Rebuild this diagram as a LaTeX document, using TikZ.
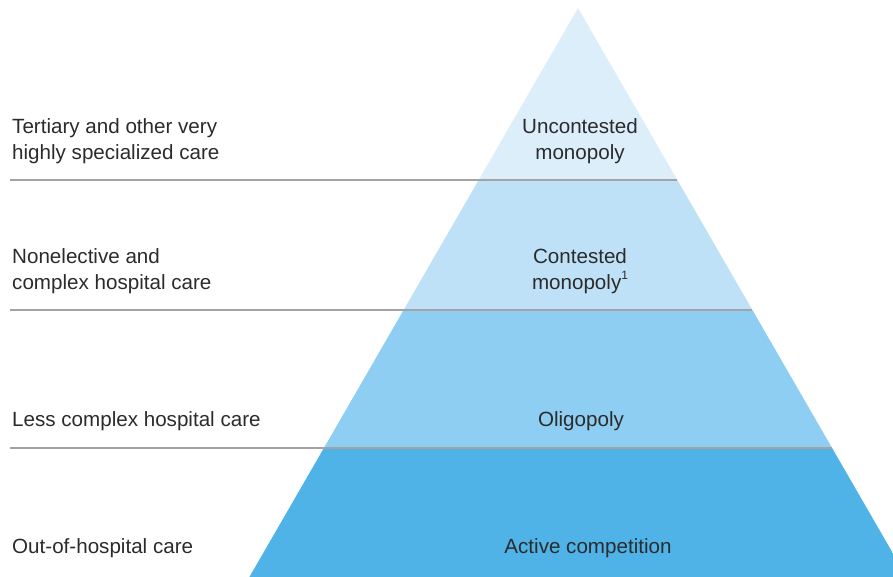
\documentclass[tikz,border=0pt]{standalone}
\usepackage{fontspec}
\setmainfont{Liberation Sans}
\usetikzlibrary{positioning}
\definecolor{tierone}{HTML}{DDEEFB}
\definecolor{tiertwo}{HTML}{BFE1F8}
\definecolor{tierthree}{HTML}{8ECEF3}
\definecolor{tierfour}{HTML}{4FB3E7}
\definecolor{rulegray}{HTML}{A3A3A3}
\definecolor{textgray}{HTML}{2B2B2B}
\newcommand{\footmark}[1]{\raisebox{0.5em}{\fontsize{12}{12}\selectfont #1}}
\tikzset{
  carelabel/.style={
    anchor=west,
    align=left,
    text=textgray,
    font=\fontsize{20.6}{26}\selectfont,
    inner sep=0pt
    },
  marketlabel/.style={
    align=center,
    text=textgray,
    font=\fontsize{20.6}{26}\selectfont,
    inner sep=0pt
    },
  divider/.style={
    draw=rulegray,
    line width=1.4pt
    }
}

\begin{document}
\begin{tikzpicture}[x=1pt,y=-1pt]
\useasboundingbox (0,0) rectangle (893,576);
\coordinate (apex) at (578,8);
\coordinate (baseL) at (231.5,608);
\coordinate (baseR) at (924.5,608);
% pyramid bands
\begin{scope}
\clip (0,0) rectangle (893,576);
\clip (apex) -- (baseL) -- (baseR) -- cycle;
\fill[tierone] (0,0) rectangle (893,180);
\fill[tiertwo] (0,180) rectangle (893,310);
\fill[tierthree] (0,310) rectangle (893,448);
\fill[tierfour] (0,448) rectangle (893,610);
\end{scope}
% dividers
\coordinate (lineA) at (10,180);
\coordinate (lineB) at (10,310);
\coordinate (lineC) at (10,448);
\draw[divider] (lineA) -- (677.3,180);
\draw[divider] (lineB) -- (752.4,310);
\draw[divider] (lineC) -- (832.1,448);
% care levels
\node (care1) [carelabel] at (12,141) {Tertiary and other very\\highly specialized care};
\node (care2) [carelabel] at (12,271) {Nonelective and\\complex hospital care};
\node (care3) [carelabel] at (12,421) {Less complex hospital care};
\node (care4) [carelabel] at (12,548) {Out-of-hospital care};
% market structure
\node (market1) [marketlabel] at (580,141) {Uncontested\\monopoly};
\node (market2) [marketlabel] at (580,271) {Contested\\monopoly\footmark{1}};
\node (market3) [marketlabel] at (581,421) {Oligopoly};
\node (market4) [marketlabel] at (588,548) {Active competition};
\end{tikzpicture}
\end{document}
